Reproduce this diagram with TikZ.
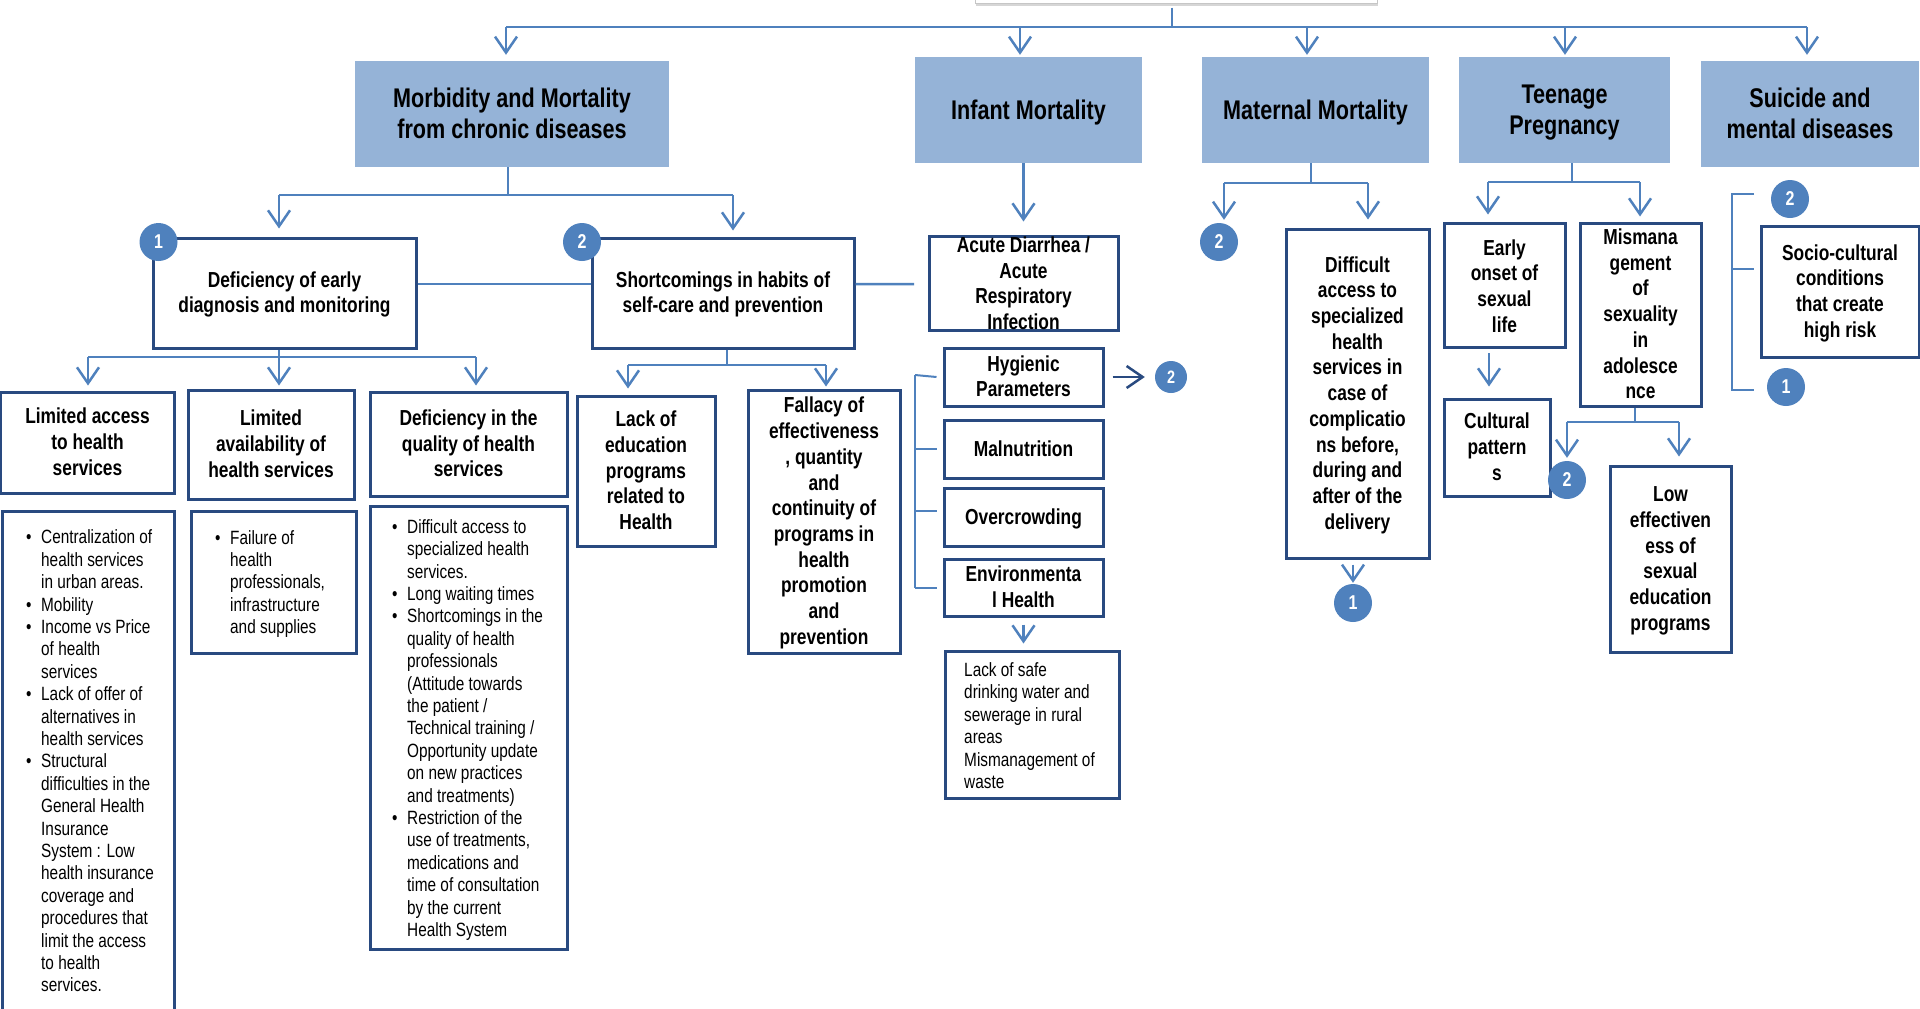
\documentclass[tikz,border=0pt]{standalone}
\usepackage{fontspec}
\setmainfont{Liberation Sans}
\newfontfamily\narrowfam[FakeStretch=0.8]{Liberation Sans}
\usetikzlibrary{arrows.meta,shadows}
\definecolor{cblue}{RGB}{79,129,189}
\definecolor{tfill}{RGB}{149,179,215}
\definecolor{bdark}{RGB}{41,74,128}
\newcommand\ttlfont{\narrowfam\bfseries\fontsize{27bp}{31bp}\selectfont}
\newcommand\bxfont{\narrowfam\bfseries\fontsize{21.7bp}{25.7bp}\selectfont}
\newcommand\bufont{\narrowfam\fontsize{19.2bp}{22.4bp}\selectfont}
\newcommand\nmfont{\narrowfam\bfseries\fontsize{20bp}{24bp}\selectfont}
\newcommand\bulx{\strut\makebox[15bp][l]{\textbullet}}
\newcommand\indx{\strut\hspace*{15bp}}
\newcommand\lowered[2]{\raisebox{-#1}[\height][\depth]{\begin{tabular}{@{}c@{}}#2\end{tabular}}}
\newcommand\tx[1]{\lowered{2bp}{#1}}
\newcommand\ttx[1]{\lowered{3bp}{#1}}
\newcommand\overflowtx[1]{\raisebox{-8bp}[0pt][0pt]{\begin{tabular}{@{}c@{}}#1\end{tabular}}}
\tikzset{
  conn/.style={draw=cblue, line width=2.5bp},
  arr/.style={conn, -{Straight Barb[length=16bp,width=22bp]}, shorten >=3bp},
  darr/.style={draw=bdark, line width=2.5bp, -{Straight Barb[length=16bp,width=22bp]}},
  brk/.style={draw=cblue, line width=2bp},
  title/.style={fill=tfill, inner sep=0pt, align=center, font=\ttlfont},
  box/.style={draw=bdark, line width=3bp, fill=white, inner sep=0pt, align=center, font=\bxfont},
  num/.style={circle, fill=cblue, text=white, inner sep=0pt, minimum size=38bp, font=\nmfont},
  txt/.style={inner sep=0pt, align=left, anchor=west, font=\bufont},
  rootbox/.style={fill=white, draw=gray!45, line width=1bp, minimum width=402bp, minimum height=44bp, inner sep=0pt,
    drop shadow={shadow xshift=1bp, shadow yshift=-3bp, opacity=0.45, fill=gray!70}},
}
\begin{document}
\begin{tikzpicture}[x=1bp, y=-1bp]
\fill[white] (0,0) rectangle (1920,1008);
\useasboundingbox (0,0) rectangle (1920,1008);

% root (cut off at top)
\node[rootbox] (root) at (1176,-19) {};

% level 1
\node[title, minimum width=314bp, minimum height=106bp] (morb) at (512,114) {\ttx{Morbidity and Mortality\\from chronic diseases}};
\node[title, minimum width=227bp, minimum height=106bp] (infant) at (1028.5,110) {\ttx{Infant Mortality}};
\node[title, minimum width=227bp, minimum height=106bp] (matern) at (1315.5,110) {\ttx{Maternal Mortality}};
\node[title, minimum width=211bp, minimum height=106bp] (teen) at (1564.5,110) {\ttx{Teenage\\Pregnancy}};
\node[title, minimum width=218bp, minimum height=106bp] (suic) at (1810,114) {\ttx{Suicide and\\mental diseases}};

% level 2
\node[box, minimum width=263bp, minimum height=110bp] (defi) at (284.5,293) {\tx{Deficiency of early\\diagnosis and monitoring}};
\node[box, minimum width=262bp, minimum height=110bp] (short) at (723,293) {\tx{Shortcomings in habits of\\self-care and prevention}};
\node[box, minimum width=189bp, minimum height=94bp] (acute) at (1023.5,283) {\overflowtx{Acute Diarrhea /\\Acute\\Respiratory\\Infection}};
\node[box, minimum width=159bp, minimum height=58bp] (hyg) at (1023.5,377) {\tx{Hygienic\\Parameters}};
\node[box, minimum width=159bp, minimum height=58bp] (maln) at (1023.5,449) {\tx{Malnutrition}};
\node[box, minimum width=159bp, minimum height=58bp] (overc) at (1023.5,517) {\tx{Overcrowding}};
\node[box, minimum width=159bp, minimum height=57bp] (env) at (1023.5,587.5) {\tx{Environmenta\\l Health}};
\node[box, minimum width=174bp, minimum height=147bp] (water) at (1032,724.5) {};
\node[txt] (watert) at (964,728) {\strut Lack of safe\\\strut drinking water and\\\strut sewerage in rural\\\strut areas\\\strut Mismanagement of\\\strut waste};

% level 3 (chronic)
\node[box, minimum width=173bp, minimum height=101bp] (lacc) at (87.5,442.5) {\tx{Limited access\\to health\\services}};
\node[box, minimum width=166bp, minimum height=109bp] (lav) at (271,444.5) {\tx{Limited\\availability of\\health services}};
\node[box, minimum width=197bp, minimum height=104bp] (dqual) at (468.5,444) {\tx{Deficiency in the\\quality of health\\services}};
\node[box, minimum width=138bp, minimum height=150bp] (lacked) at (646,471) {\tx{Lack of\\education\\programs\\related to\\Health}};
\node[box, minimum width=152bp, minimum height=263bp] (fall) at (824,521.5) {\tx{Fallacy of\\effectiveness\\, quantity\\and\\continuity of\\programs in\\health\\promotion\\and\\prevention}};

\node[box, minimum width=171bp, minimum height=519bp] (b1) at (88.5,770.5) {};
\node[txt] (b1t) at (26,763.5) {\bulx Centralization of\\\indx health services\\\indx in urban areas.\\\bulx Mobility\\\bulx Income vs Price\\\indx of health\\\indx services\\\bulx Lack of offer of\\\indx alternatives in\\\indx health services\\\bulx Structural\\\indx difficulties in the\\\indx General Health\\\indx Insurance\\\indx System : Low\\\indx health insurance\\\indx coverage and\\\indx procedures that\\\indx limit the access\\\indx to health\\\indx services.};
\node[box, minimum width=165bp, minimum height=142bp] (b2) at (273.5,582) {};
\node[txt] (b2t) at (215,584.5) {\bulx Failure of\\\indx health\\\indx professionals,\\\indx infrastructure\\\indx and supplies};
\node[box, minimum width=197bp, minimum height=443bp] (b3) at (468.5,727.5) {};
\node[txt] (b3t) at (392,730.5) {\bulx Difficult access to\\\indx specialized health\\\indx services.\\\bulx Long waiting times\\\bulx Shortcomings in the\\\indx quality of health\\\indx professionals\\\indx (Attitude towards\\\indx the patient /\\\indx Technical training /\\\indx Opportunity update\\\indx on new practices\\\indx and treatments)\\\bulx Restriction of the\\\indx use of treatments,\\\indx medications and\\\indx time of consultation\\\indx by the current\\\indx Health System};

% maternal / teenage / suicide
\node[box, minimum width=143bp, minimum height=329bp] (diff) at (1357.5,393.5) {\tx{Difficult\\access to\\specialized\\health\\services in\\case of\\complicatio\\ns before,\\during and\\after of the\\delivery}};
\node[box, minimum width=121bp, minimum height=124bp] (early) at (1504.5,285) {\lowered{3.5bp}{Early\\onset of\\sexual\\life}};
\node[box, minimum width=106bp, minimum height=97bp] (cult) at (1497,447.5) {\tx{Cultural\\pattern\\s}};
\node[box, minimum width=121bp, minimum height=183bp] (misma) at (1640.5,314.5) {\tx{Mismana\\gement\\of\\sexuality\\in\\adolesce\\nce}};
\node[box, minimum width=121bp, minimum height=186bp] (loweff) at (1670.5,559) {\tx{Low\\effectiven\\ess of\\sexual\\education\\programs}};
\node[box, minimum width=158bp, minimum height=131bp] (socio) at (1840,291.5) {\tx{Socio-cultural\\conditions\\that create\\high risk}};

% numbered circles
\node[num] (c1a) at (158.5,242) {1};
\node[num] (c2a) at (582,242) {2};
\node[num, minimum size=32bp, font=\narrowfam\bfseries\fontsize{18bp}{20bp}\selectfont] (c2h) at (1171,377) {2};
\node[num] (c2m) at (1219,242) {2};
\node[num] (c1m) at (1353,603) {1};
\node[num] (c2t) at (1567,480) {2};
\node[num] (c2s) at (1790,199) {2};
\node[num] (c1s) at (1786,387) {1};

% ---------- connectors ----------
% top bus
\coordinate (tbS) at (1172,27);
\coordinate (tbL) at (506,27);
\coordinate (tb1) at (1020,27);
\coordinate (tb2) at (1307,27);
\coordinate (tb3) at (1565,27);
\coordinate (tbR) at (1807,27);
\draw[conn] (root.south) ++(-4,4) -- (tbS);
\draw[conn] (tbL) -- (tbR);
\draw[arr, shorten >=6bp] (tbL) -- (tbL |- morb.north);
\draw[arr, shorten >=2bp] (tb1) -- (tb1 |- infant.north);
\draw[arr, shorten >=2bp] (tb2) -- (tb2 |- matern.north);
\draw[arr, shorten >=2bp] (tb3) -- (tb3 |- teen.north);
\draw[arr, shorten >=6bp] (tbR) -- (tbR |- suic.north);

% morbidity subtree
\coordinate (mb) at (508,195);
\coordinate (mbL) at (279,195);
\coordinate (mbR) at (733,195);
\draw[conn] (morb.south -| mb) -- (mb);
\draw[conn] (mbL) -- (mbR);
\draw[arr, shorten >=8bp] (mbL) -- (mbL |- defi.north);
\draw[arr, shorten >=6bp] (mbR) -- (mbR |- short.north);
\coordinate (acl) at (914,284);
\draw[conn] ([yshift=9bp]defi.east) -- ([yshift=9bp]short.west);
\draw[conn] ([yshift=9bp]short.east) -- (acl);

% deficiency subtree
\coordinate (dbM) at (279,357);
\coordinate (dbL) at (88,357);
\coordinate (dbR) at (476,357);
\draw[conn] (defi.south -| dbM) -- (dbM);
\draw[conn] (dbL) -- (dbR);
\draw[arr, shorten >=5bp] (dbL) -- (dbL |- lacc.north);
\draw[arr, shorten >=3bp] (dbM) -- (dbM |- lav.north);
\draw[arr, shorten >=5bp] (dbR) -- (dbR |- dqual.north);

% shortcomings subtree
\coordinate (sbM) at (727,365);
\coordinate (sbL) at (628,365);
\coordinate (sbR) at (826,365);
\draw[conn] (short.south -| sbM) -- (sbM);
\draw[conn] (sbL) -- (sbR);
\draw[arr, shorten >=6bp] (sbL) -- (sbL |- lacked.north);
\draw[arr, shorten >=2bp] (sbR) -- (sbR |- fall.north);

% infant subtree
\draw[arr, shorten >=13bp] (infant.south -| acute.north) -- (acute.north);
\coordinate (brT) at (915,375);
\draw[brk] (brT) -- (brT |- env.west);
\draw[brk] (brT) -- ([xshift=-6bp]hyg.west);
\draw[brk] (brT |- maln.west) -- ([xshift=-6bp]maln.west);
\draw[brk] ([yshift=6bp]brT |- overc.west) -- ([xshift=-6bp,yshift=6bp]overc.west);
\draw[brk] (brT |- env.west) -- ([xshift=-6bp]env.west);
\draw[darr, shorten <=8bp, shorten >=10bp] (hyg.east) -- (c2h.west);
\draw[arr, shorten <=7bp, shorten >=6bp] (env.south) -- (env.south |- water.north);

% maternal subtree
\coordinate (mtM) at (1311,183);
\coordinate (mtL) at (1224,183);
\coordinate (mtR) at (1368,183);
\draw[conn] (matern.south -| mtM) -- (mtM);
\draw[conn] (mtL) -- (mtR);
\draw[arr, shorten >=3bp] (mtL) -- (mtL |- c2m.north);
\draw[arr, shorten >=8bp] (mtR) -- (mtR |- diff.north);
\draw[arr, shorten <=5bp, shorten >=1bp] (diff.south -| c1m.north) -- (c1m.north);

% teenage subtree
\coordinate (tnM) at (1572,182);
\coordinate (tnL) at (1488,182);
\coordinate (tnR) at (1640,182);
\draw[conn] (teen.south -| tnM) -- (tnM);
\draw[conn] (tnL) -- (tnR);
\draw[arr, shorten >=7bp] (tnL) -- (tnL |- early.north);
\draw[arr, shorten >=5bp] (tnR) -- (tnR |- misma.north);
\coordinate (ec) at (1489,353);
\draw[arr, shorten >=11bp] (ec) -- (ec |- cult.north);
\coordinate (msM) at (1635,422);
\coordinate (msL) at (1567,422);
\coordinate (msR) at (1679,422);
\draw[conn] (misma.south -| msM) -- (msM);
\draw[conn] (msL) -- (msR);
\draw[arr, shorten >=3bp] (msL) -- (msL |- c2t.north);
\draw[arr, shorten >=8bp] (msR) -- (msR |- loweff.north);

% suicide bracket
\coordinate (stT) at (1754,194);
\coordinate (stM) at (1754,269);
\coordinate (stB) at (1754,390);
\coordinate (sbx) at (1732,390);
\draw[brk, line width=2.5bp] (stT) -| (sbx) -- (stB);
\draw[brk, line width=2.5bp] (sbx |- stM) -- (stM);
\end{tikzpicture}
\end{document}
